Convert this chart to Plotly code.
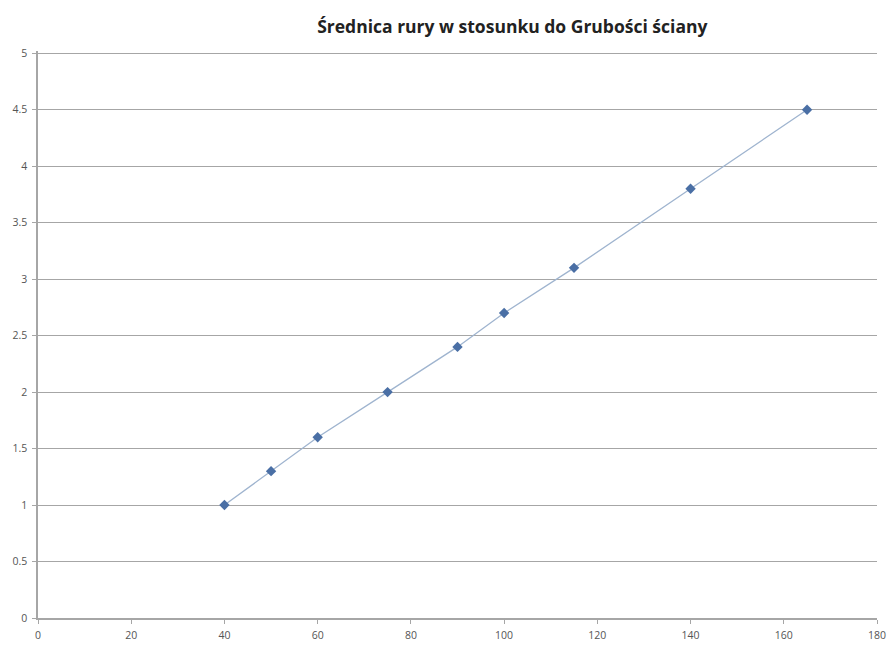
import plotly.graph_objects as go

# Pipe diameter vs. wall thickness
diameter = [40, 50, 60, 75, 90, 100, 115, 140, 165]
wall_thickness = [1.0, 1.3, 1.6, 2.0, 2.4, 2.7, 3.1, 3.8, 4.5]

x_ticks = [0, 20, 40, 60, 80, 100, 120, 140, 160, 180]
y_ticks = [0, 0.5, 1, 1.5, 2, 2.5, 3, 3.5, 4, 4.5, 5]

fig = go.Figure()
fig.add_trace(go.Scatter(
    x=diameter,
    y=wall_thickness,
    mode="lines+markers",
    line=dict(color="#9fb4cf", width=1.3),
    marker=dict(symbol="diamond", size=8, color="#4a6fa5"),
    showlegend=False,
))

fig.update_layout(
    width=891,
    height=645,
    margin=dict(l=38, r=14, t=51, b=27),
    paper_bgcolor="white",
    plot_bgcolor="white",
    font=dict(family="Open Sans, Calibri, Arial, sans-serif", color="#555555", size=11),
    title=dict(
        text="<b>Średnica rury w stosunku do Grubości ściany</b>",
        x=0.575,
        xanchor="center",
        y=0.958,
        yanchor="middle",
        font=dict(family="Open Sans, Calibri, Arial, sans-serif", size=17.5, color="#222222"),
    ),
    xaxis=dict(
        range=[0, 180],
        tickvals=x_ticks,
        showgrid=False,
        zeroline=False,
        automargin=False,
        showline=True,
        linecolor="#a6a6a6",
        linewidth=1.5,
        ticks="outside",
        ticklen=4,
        tickcolor="#a6a6a6",
        ticklabelstandoff=3,
        tickfont=dict(size=10.5, color="#555555"),
    ),
    yaxis=dict(
        range=[0, 5.02],
        tickvals=y_ticks,
        ticktext=[str(v) for v in y_ticks],
        showgrid=True,
        gridcolor="#a6a6a6",
        gridwidth=1.2,
        zeroline=False,
        automargin=False,
        showline=True,
        linecolor="#a6a6a6",
        linewidth=1.5,
        ticks="outside",
        ticklen=4,
        tickcolor="#a6a6a6",
        ticklabelstandoff=3,
        tickfont=dict(size=10.5, color="#555555"),
    ),
)

fig.write_html("out.html")
